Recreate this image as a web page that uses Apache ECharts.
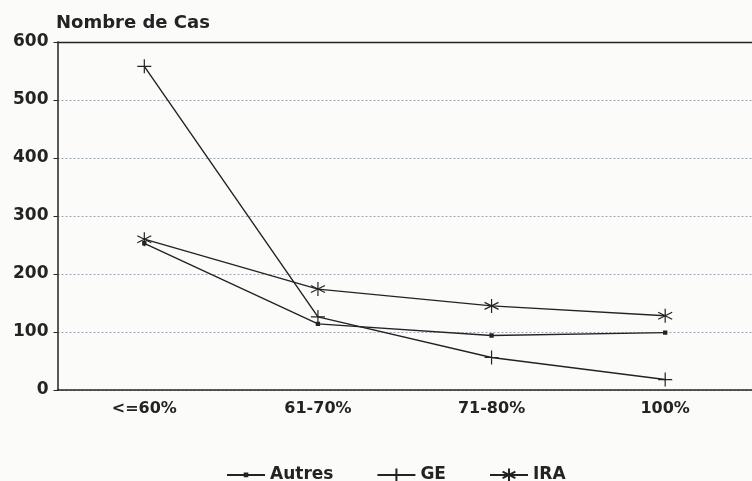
<!DOCTYPE html>
<html><head><meta charset="utf-8">
<script src="https://cdn.jsdelivr.net/npm/echarts@6/dist/echarts.min.js"></script>
<style>html,body{margin:0;padding:0;background:#fbfbfa}#c{width:752px;height:481px}</style>
</head><body><div id="c"></div>
<script>
const categories = ['<=60%', '61-70%', '71-80%', '100%'];
const autres = [253, 114, 94, 99];
const ge = [558, 126, 56, 18];
const ira = [260, 174, 145, 128];
const yTicks = [0, 100, 200, 300, 400, 500, 600];

const ink = '#232323';
const font = '"DejaVu Sans", sans-serif';
const plusPath = 'path://M0,-1L0,1M-1,0L1,0';
const starPath = 'path://M0,-1L0,1M-0.87,-0.5L0.87,0.5M-0.87,0.5L0.87,-0.5';
// small dot inside a larger invisible bounding box (keeps legend dot small)
const dotPath = 'path://M-5,-5L-5,-5ZM5,5L5,5ZM-1.8,-1.8L1.8,-1.8L1.8,1.8L-1.8,1.8Z';

function mk(name, data, symbol, size, filled) {
  return {
    name, type: 'line', data, symbol, symbolSize: size,
    showSymbol: true,
    lineStyle: { color: ink, width: 1.4 },
    itemStyle: filled ? { color: ink } : { color: 'none', borderColor: ink, borderWidth: 1.2 },
    emphasis: { disabled: true },
    animation: false
  };
}

const chart = echarts.init(document.getElementById('c'));
chart.setOption({
  backgroundColor: '#fbfbfa',
  animation: false,
  title: {
    text: 'Nombre de Cas', left: 51, top: 9,
    textStyle: { fontFamily: font, fontSize: 18, fontWeight: 'bold', color: ink }
  },
  grid: { left: 57.5, top: 42, width: 700, height: 348 },
  legend: {
    top: 461, left: 221, itemWidth: 38, itemHeight: 16, itemGap: 43,
    textStyle: { fontFamily: font, fontSize: 17, fontWeight: 'bold', color: ink },
    data: ['Autres', 'GE', 'IRA']
  },
  xAxis: [{
    type: 'category', data: categories, boundaryGap: true,
    axisLine: { lineStyle: { color: ink, width: 1.5 } },
    axisTick: { inside: true, alignWithLabel: true, length: 8, lineStyle: { color: ink } },
    axisLabel: { fontFamily: font, fontSize: 16, fontWeight: 'bold', color: ink, margin: 11 }
  }, {
    type: 'category', data: categories, position: 'top',
    axisLine: { lineStyle: { color: ink, width: 1.3 } },
    axisTick: { show: false }, axisLabel: { show: false }
  }],
  yAxis: {
    type: 'value', min: yTicks[0], max: yTicks[yTicks.length - 1], interval: 100,
    axisLine: { show: true, lineStyle: { color: ink, width: 1.5 } },
    axisTick: { show: true, length: 4, lineStyle: { color: ink } },
    axisLabel: { fontFamily: font, fontSize: 17, fontWeight: 'bold', color: ink, margin: 9 },
    splitLine: { show: true, lineStyle: { color: '#8fa8bb', type: [2, 2], width: 1 } }
  },
  series: [
    mk('Autres', autres, dotPath, 12, true),
    mk('GE', ge, plusPath, 14, false),
    mk('IRA', ira, starPath, 14, false)
  ]
});
</script>
</body></html>
